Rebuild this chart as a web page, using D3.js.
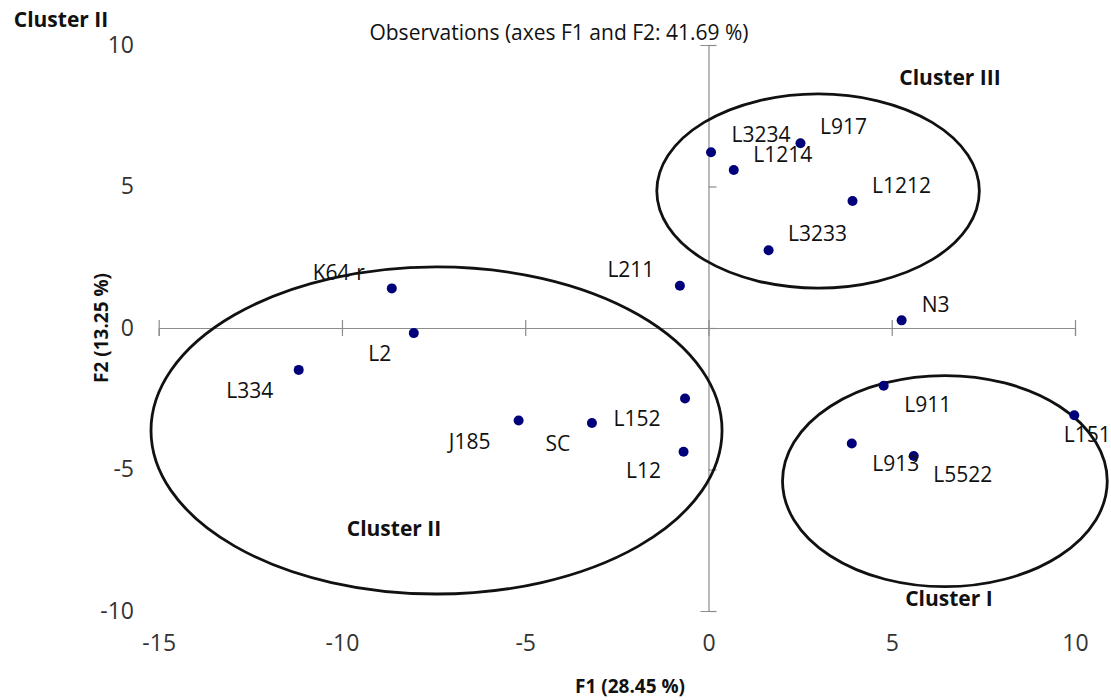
<!DOCTYPE html>
<html>
<head>
<meta charset="utf-8">
<script src="https://cdn.jsdelivr.net/npm/d3@7"></script>
<style>
  body { margin: 0; background: #fff; }
  text { font-family: "Open Sans", "Noto Sans", sans-serif; }
</style>
</head>
<body>
<svg id="chart" width="1111" height="700"></svg>
<script>
// observations (F1, F2 scores)
const obsNames = ["L3234", "L917", "L1214", "L1212", "L3233", "L211", "K64-r", "L2", "L334",
                  "J185", "SC", "L152", "L12", "N3", "L911", "L151", "L913", "L5522"];
const obsF1 = [0.07, 2.51, 0.69, 3.93, 1.64, -0.78, -8.64, -8.04, -11.18,
               -5.18, -3.18, -0.64, -0.68, 5.27, 4.78, 9.98, 3.91, 5.60];
const obsF2 = [6.21, 6.53, 5.58, 4.49, 2.75, 1.49, 1.40, -0.18, -1.48,
               -3.27, -3.36, -2.49, -4.37, 0.27, -2.04, -3.08, -4.08, -4.52];

// label placement relative to its point (px), layout only
const labelOffsets = [[50, -18], [43, -17], [49, -16], [49, -16], [49, -17], [-49, -17], [-53, -16], [-34, 20], [-49, 20],
                      [-49, 20], [-34, 20], [-48, 20], [-40, 18], [34, -16], [44, 18], [13, 19], [44, 20], [49, 18]];

// clusters drawn as ellipses (data units)
const clusterNames = ["Cluster III", "Cluster II", "Cluster I"];
const clusterCx = [2.99, -7.42, 6.45];
const clusterCy = [4.84, -3.62, -5.41];
const clusterRx = [4.40, 7.79, 4.43];
const clusterRy = [3.43, 5.78, 3.73];
const clusterLabelX = [6.59, -8.58, 6.56];
const clusterLabelY = [8.87, -7.07, -9.54];

const xTicks = [-15, -10, -5, 0, 5, 10];
const yTicks = [-10, -5, 0, 5, 10];

const title = "Observations (axes F1 and F2: 41.69 %)";
const xTitle = "F1 (28.45 %)";
const yTitle = "F2 (13.25 %)";
const cornerLabel = "Cluster II";

const svg = d3.select("#chart");

const x = d3.scaleLinear().domain([-15, 10]).range([158.7, 1075]);
const y = d3.scaleLinear().domain([-10, 10]).range([611, 45]);

const axisColor = "#8c8c8c";
const tickText = "#333";

// axes crossing at the origin, ticks cross the line
svg.append("g")
  .attr("transform", `translate(0,${y(0)})`)
  .call(d3.axisBottom(x).tickValues(xTicks).tickSize(8).tickFormat(""))
  .call(g => g.select(".domain").attr("stroke", axisColor).attr("stroke-width", 1.2))
  .call(g => g.selectAll(".tick line").attr("y1", -8).attr("stroke", axisColor).attr("stroke-width", 1.2));

svg.append("g")
  .attr("transform", `translate(${x(0)},0)`)
  .call(d3.axisLeft(y).tickValues(yTicks).tickSize(8).tickFormat(""))
  .call(g => g.select(".domain").attr("stroke", axisColor).attr("stroke-width", 1.2))
  .call(g => g.selectAll(".tick line").attr("x2", 8).attr("stroke", axisColor).attr("stroke-width", 1.2));

// tick labels along the plot edges
svg.append("g")
  .attr("transform", "translate(0,632)")
  .call(d3.axisBottom(x).tickValues(xTicks).tickSize(0).tickFormat(d => String(d)))
  .call(g => g.select(".domain").remove())
  .call(g => g.selectAll("text").attr("font-size", 23).attr("fill", tickText)
    .attr("font-family", "'Open Sans', sans-serif"));

svg.append("g")
  .attr("transform", "translate(134,0)")
  .call(d3.axisLeft(y).tickValues(yTicks).tickSize(0).tickPadding(0).tickFormat(d => String(d)))
  .call(g => g.select(".domain").remove())
  .call(g => g.selectAll("text").attr("font-size", 23).attr("fill", tickText)
    .attr("font-family", "'Open Sans', sans-serif"));

// cluster ellipses
const clusters = clusterNames.map((n, i) => ({
  name: n, cx: clusterCx[i], cy: clusterCy[i], rx: clusterRx[i], ry: clusterRy[i],
  lx: clusterLabelX[i], ly: clusterLabelY[i]
}));

svg.append("g").selectAll("ellipse")
  .data(clusters)
  .join("ellipse")
  .attr("cx", d => x(d.cx))
  .attr("cy", d => y(d.cy))
  .attr("rx", d => x(d.rx) - x(0))
  .attr("ry", d => y(0) - y(d.ry))
  .attr("fill", "none")
  .attr("stroke", "#111")
  .attr("stroke-width", 2.8);

svg.append("g").selectAll("text")
  .data(clusters)
  .join("text")
  .attr("x", d => x(d.lx))
  .attr("y", d => y(d.ly))
  .attr("text-anchor", "middle")
  .attr("dominant-baseline", "central")
  .attr("font-size", 21)
  .attr("font-weight", "bold")
  .attr("fill", "#111")
  .text(d => d.name);

// points and labels
const obs = obsNames.map((n, i) => ({ name: n, f1: obsF1[i], f2: obsF2[i], off: labelOffsets[i] }));

svg.append("g").selectAll("circle")
  .data(obs)
  .join("circle")
  .attr("cx", d => x(d.f1))
  .attr("cy", d => y(d.f2))
  .attr("r", 5)
  .attr("fill", "#00007a");

svg.append("g").selectAll("text")
  .data(obs)
  .join("text")
  .attr("x", d => x(d.f1) + d.off[0])
  .attr("y", d => y(d.f2) + d.off[1])
  .attr("text-anchor", "middle")
  .attr("dominant-baseline", "central")
  .attr("font-size", 21)
  .attr("fill", "#111")
  .text(d => d.name);

// titles
svg.append("text")
  .attr("x", 559).attr("y", 32)
  .attr("text-anchor", "middle")
  .attr("dominant-baseline", "central")
  .attr("font-size", 21)
  .attr("fill", "#111")
  .text(title);

svg.append("text")
  .attr("x", 61).attr("y", 19)
  .attr("text-anchor", "middle")
  .attr("dominant-baseline", "central")
  .attr("font-size", 21)
  .attr("font-weight", "bold")
  .attr("fill", "#111")
  .text(cornerLabel);

svg.append("text")
  .attr("x", 630).attr("y", 686)
  .attr("text-anchor", "middle")
  .attr("dominant-baseline", "central")
  .attr("font-size", 19)
  .attr("font-weight", "bold")
  .attr("fill", "#111")
  .text(xTitle);

svg.append("text")
  .attr("transform", "translate(101,328) rotate(-90)")
  .attr("text-anchor", "middle")
  .attr("dominant-baseline", "central")
  .attr("font-size", 19)
  .attr("font-weight", "bold")
  .attr("fill", "#111")
  .text(yTitle);
</script>
</body>
</html>
